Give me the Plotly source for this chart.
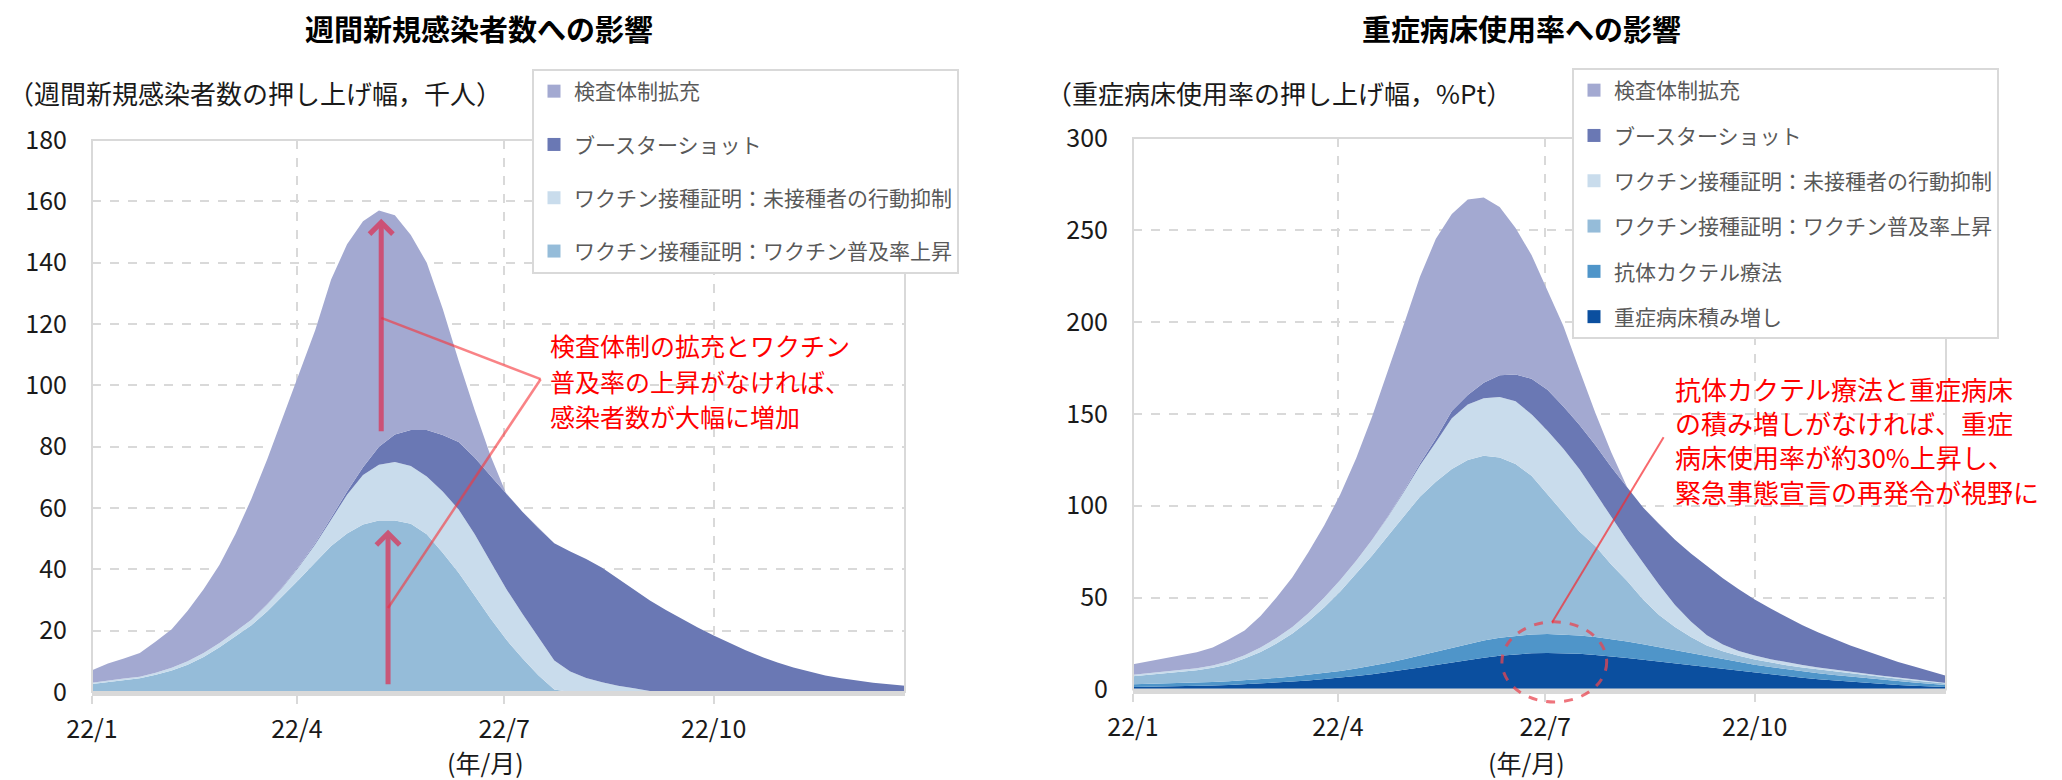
import plotly.graph_objects as go
import pandas as pd

W, H = 2062, 780
FONT = "Noto Sans CJK JP"

# Weekly observation dates (Sundays), 2022-01-02 .. 2022-12-25
weeks = pd.date_range("2022-01-02", periods=52, freq="7D").strftime("%Y-%m-%d").tolist()
x_start, x_end = "2022-01-02", "2022-12-25"
tick_dates = ["2022-01-02", "2022-04-02", "2022-07-02", "2022-10-02"]
tick_labels = ["22/1", "22/4", "22/7", "22/10"]

# ---- Left panel: weekly new cases, upward contribution (thousand people) ----
cases_vaccine_rate = [2.6, 3.3, 3.9, 4.5, 5.6, 7.0, 8.9, 11.4, 14.6, 18.2,
                      21.8, 26.3, 31.4, 36.8, 42.2, 47.6, 51.7, 54.6, 55.9, 55.9,
                      54.9, 51.4, 45.4, 38.9, 31.5, 24.0, 17.0, 11.0, 5.5, 0.8,
                      0, 0, 0, 0, 0, 0, 0, 0, 0, 0,
                      0, 0, 0, 0, 0, 0, 0, 0, 0, 0,
                      0, 0]
cases_unvax_restrict = [0.4, 0.5, 0.5, 0.5, 0.7, 0.9, 1.1, 1.3, 1.4, 1.5,
                        1.8, 2.3, 3.0, 4.1, 5.9, 8.6, 12.6, 16.2, 18.2, 19.1,
                        18.8, 18.9, 20.0, 20.6, 20.0, 18.5, 16.5, 14.5, 12.5, 9.5,
                        6.7, 4.6, 3.2, 2.0, 1.2, 0.3, 0, 0, 0, 0,
                        0, 0, 0, 0, 0, 0, 0, 0, 0, 0,
                        0, 0]
cases_booster = [0, 0, 0, 0, 0, 0, 0, 0, 0, 0,
                 0, 0.1, 0.2, 0.3, 0.4, 0.6, 1.1, 2.5, 5.9, 9.0,
                 11.7, 15.1, 18.4, 22.0, 25.0, 28.0, 31.0, 33.3, 35.5, 38.2,
                 39.1, 38.8, 37.3, 35.0, 32.1, 29.5, 26.7, 23.8, 21.0, 18.4,
                 15.9, 13.6, 11.5, 9.6, 8.0, 6.6, 5.4, 4.5, 3.7, 3.0,
                 2.5, 2.0]
cases_testing = [4.1, 5.5, 6.5, 7.7, 10.2, 12.6, 16.5, 20.8, 25.5, 31.8,
                 39.4, 47.3, 55.4, 62.8, 69.5, 77.7, 80.6, 80.2, 77.0, 71.5,
                 63.6, 54.6, 41.2, 26.5, 15.5, 6.5, 0, 0, 0, 0,
                 0, 0, 0, 0, 0, 0, 0, 0, 0, 0,
                 0, 0, 0, 0, 0, 0, 0, 0, 0, 0,
                 0, 0]

# ---- Right panel: severe-case bed usage, upward contribution (%Pt) ----
beds_bed_increase = [1.3, 1.4, 1.5, 1.7, 1.9, 2.2, 2.5, 2.9, 3.3, 3.8,
                     4.3, 4.9, 5.6, 6.4, 7.3, 8.3, 9.4, 10.6, 11.9, 13.3,
                     14.7, 16.1, 17.3, 18.4, 19.2, 19.7, 19.9, 19.8, 19.4, 18.8,
                     18.1, 17.2, 16.2, 15.2, 14.1, 13.0, 12.0, 11.0, 10.0, 9.0,
                     8.1, 7.2, 6.4, 5.6, 4.9, 4.2, 3.6, 3.0, 2.5, 2.0,
                     1.6, 1.3]
beds_antibody = [1.5, 1.6, 1.7, 1.8, 1.9, 1.9, 2.0, 2.1, 2.3, 2.5,
                 2.8, 3.1, 3.4, 3.7, 4.1, 4.6, 5.2, 5.8, 6.5, 7.2,
                 8.0, 8.7, 9.3, 9.7, 10.0, 10.2, 10.3, 10.2, 10.0, 9.7,
                 9.3, 8.9, 8.4, 7.8, 7.2, 6.6, 6.0, 5.4, 4.9, 4.5,
                 4.1, 3.8, 3.5, 3.3, 3.0, 2.8, 2.5, 2.3, 2.0, 1.8,
                 1.5, 1.2]
beds_vaccine_rate = [4.4, 5.0, 5.6, 6.1, 6.7, 7.7, 9.3, 11.8, 14.8, 18.7,
                     23.3, 29.1, 35.8, 43.2, 51.5, 60.0, 69.1, 78.2, 86.5, 92.5,
                     97.2, 100.0, 100.5, 98.1, 93.4, 86.4, 76.1, 66.0, 56.6, 49.5,
                     40.6, 32.9, 24.4, 17.5, 12.7, 8.9, 6.0, 4.4, 3.4, 2.8,
                     2.5, 2.2, 2.1, 2.0, 1.9, 1.8, 1.7, 1.5, 1.3, 1.1,
                     0.9, 0.7]
beds_unvax_restrict = [0.8, 0.8, 0.9, 1.0, 1.1, 1.2, 1.5, 1.8, 2.5, 3.0,
                       3.6, 4.4, 5.2, 6.2, 7.1, 8.6, 10.3, 13.0, 17.0, 21.5,
                       27.6, 30.2, 31.3, 32.9, 34.2, 33.4, 34.4, 35.0, 34.0, 29.0,
                       26.0, 22.0, 20.0, 16.5, 12.0, 8.5, 5.5, 3.7, 2.7, 2.2,
                       1.8, 1.6, 1.3, 1.1, 1.0, 0.9, 0.8, 0.7, 0.7, 0.6,
                       0.5, 0.4]
beds_booster = [0, 0, 0, 0, 0, 0, 0, 0, 0, 0,
                0, 0, 0, 0, 0, 0, 0.3, 0.5, 1.0, 2.0,
                4.0, 5.2, 8.5, 11.8, 14.6, 19.4, 22.3, 23.0, 24.0, 26.0,
                27.0, 29.0, 30.0, 33.0, 35.5, 37.0, 37.5, 36.0, 33.5, 30.5,
                27.5, 24.7, 21.7, 19.0, 16.7, 14.3, 12.4, 10.5, 8.5, 7.0,
                5.5, 3.9]
beds_testing = [5.8, 6.6, 7.3, 8.1, 8.7, 9.9, 11.9, 13.5, 17.1, 22.0,
                27.0, 33.1, 39.3, 46.6, 55.8, 67.0, 78.9, 90.7, 101.6, 108.7,
                107.1, 106.3, 100.8, 91.6, 79.7, 67.2, 54.0, 43.8, 30.0, 17.5,
                8.0, 0, 0, 0, 0, 0, 0, 0, 0, 0,
                0, 0, 0, 0, 0, 0, 0, 0, 0, 0,
                0, 0]

NAMES = {
    "testing": "検査体制拡充",
    "booster": "ブースターショット",
    "unvax": "ワクチン接種証明：未接種者の行動抑制",
    "rate": "ワクチン接種証明：ワクチン普及率上昇",
    "antibody": "抗体カクテル療法",
    "beds": "重症病床積み増し",
}
COLORS = {
    "testing": "#A3A9D1",
    "booster": "#6A78B4",
    "unvax": "#C9DCEC",
    "rate": "#95BCD9",
    "antibody": "#4F95C9",
    "beds": "#0B4F9F",
}

fig = go.Figure()


def add_stack(values, key, xa, ya, group):
    fig.add_trace(go.Scatter(
        x=weeks, y=values, mode="lines", stackgroup=group,
        line=dict(width=0, color=COLORS[key]), fillcolor=COLORS[key],
        xaxis=xa, yaxis=ya, showlegend=False, hoverinfo="skip",
    ))


# stacked areas, bottom layer first
add_stack(cases_vaccine_rate, "rate", "x", "y", "cases")
add_stack(cases_unvax_restrict, "unvax", "x", "y", "cases")
add_stack(cases_booster, "booster", "x", "y", "cases")
add_stack(cases_testing, "testing", "x", "y", "cases")

add_stack(beds_bed_increase, "beds", "x2", "y2", "beds")
add_stack(beds_antibody, "antibody", "x2", "y2", "beds")
add_stack(beds_vaccine_rate, "rate", "x2", "y2", "beds")
add_stack(beds_unvax_restrict, "unvax", "x2", "y2", "beds")
add_stack(beds_booster, "booster", "x2", "y2", "beds")
add_stack(beds_testing, "testing", "x2", "y2", "beds")


# legend swatches (square markers)
def add_key(key, legend, xa, ya):
    fig.add_trace(go.Scatter(
        x=[None], y=[None], mode="markers", name=NAMES[key],
        marker=dict(symbol="square", size=13, color=COLORS[key]),
        legend=legend, legendgroup=legend + key, showlegend=True,
        xaxis=xa, yaxis=ya, hoverinfo="skip",
    ))


for k in ["testing", "booster", "unvax", "rate"]:
    add_key(k, "legend", "x", "y")
for k in ["testing", "booster", "unvax", "rate", "antibody", "beds"]:
    add_key(k, "legend2", "x2", "y2")


def px(x):
    return x / W


def py(y):
    return 1 - y / H


GRID = "#D9D9D9"
TICKFONT = dict(family=FONT, size=25, color="#1A1A1A")

xaxis_common = dict(
    type="date", range=[x_start, x_end], tickmode="array",
    tickvals=tick_dates, ticktext=tick_labels, tickfont=TICKFONT,
    showgrid=True, gridcolor=GRID, gridwidth=2, griddash="dash",
    showline=True, linecolor=GRID, linewidth=4,
    ticks="outside", ticklen=8, tickwidth=2, tickcolor=GRID,
    ticklabelstandoff=4, zeroline=False, fixedrange=True, automargin=False,
)
yaxis_common = dict(
    tickfont=TICKFONT, showgrid=True, gridcolor=GRID, gridwidth=2,
    griddash="dash", zeroline=False, showline=False, ticks="",
    ticklabelstandoff=24, fixedrange=True, automargin=False,
)

fig.update_layout(
    width=W, height=H, margin=dict(l=0, r=0, t=0, b=0, autoexpand=False),
    paper_bgcolor="white", plot_bgcolor="white",
    font=dict(family=FONT),
    xaxis=dict(domain=[px(92), px(905)], anchor="y", **xaxis_common),
    yaxis=dict(domain=[py(692), py(140)], anchor="x", range=[0, 180], dtick=20, **yaxis_common),
    xaxis2=dict(domain=[px(1133), px(1946)], anchor="y2", **xaxis_common),
    yaxis2=dict(domain=[py(689.5), py(138)], anchor="x2", range=[0, 300], dtick=50, **yaxis_common),
    legend=dict(
        x=px(532), y=py(69), xanchor="left", yanchor="top",
        bgcolor="white", bordercolor=GRID, borderwidth=2,
        font=dict(family=FONT, size=21, color="#595959"),
        tracegroupgap=23, itemwidth=30,
    ),
    legend2=dict(
        x=px(1572), y=py(68), xanchor="left", yanchor="top",
        bgcolor="white", bordercolor=GRID, borderwidth=2,
        font=dict(family=FONT, size=21, color="#595959"),
        tracegroupgap=15, itemwidth=30,
    ),
    hovermode=False,
)

shapes = []
# plot-area frames
for xa, ya in [("x", "y"), ("x2", "y2")]:
    shapes.append(dict(type="rect", xref=xa + " domain", yref=ya + " domain",
                       x0=0, x1=1, y0=0, y1=1, line=dict(color=GRID, width=2),
                       layer="above"))

# left panel callout lines
CALLOUT = "rgba(245,55,60,0.62)"
shapes.append(dict(type="line", xref="x", yref="y", x0="2022-05-09", y0=122,
                   x1="2022-07-18", y1=102, line=dict(color=CALLOUT, width=2.5)))
shapes.append(dict(type="line", xref="x", yref="y", x0="2022-05-12", y0=27.4,
                   x1="2022-07-18", y1=102, line=dict(color=CALLOUT, width=2.5)))

# right panel: dashed ellipse around the antibody / bed layers and its callout
t0 = pd.Timestamp(x_start)
span = (pd.Timestamp(x_end) - t0).days


def xfrac(d):
    return (pd.Timestamp(d) - t0).days / span


shapes.append(dict(type="circle", xref="x2 domain", yref="y2 domain",
                   x0=xfrac("2022-06-13"), x1=xfrac("2022-07-29"),
                   y0=-6.8 / 300, y1=36.8 / 300,
                   line=dict(color="rgba(232,70,80,0.75)", width=3, dash="dash"),
                   layer="above"))
shapes.append(dict(type="line", xref="x2", yref="y2", x0="2022-07-05", y0=36.5,
                   x1="2022-08-23", y1=137.2,
                   line=dict(color="rgba(245,40,45,0.7)", width=2)))
fig.update_layout(shapes=shapes)

ARROW = "rgba(222,45,80,0.7)"


def label(x, y, text, size, color="#1A1A1A", xanchor="center", bold=False):
    return dict(x=px(x), y=py(y), xref="paper", yref="paper", showarrow=False,
                xanchor=xanchor, yanchor="middle",
                text=f"<b>{text}</b>" if bold else text,
                font=dict(family=FONT, size=size, color=color))


annotations = [
    # arrows in the left panel
    dict(x="2022-05-09", y=154.3, ax="2022-05-09", ay=84.5, xref="x", yref="y",
         axref="x", ayref="y", text="", showarrow=True, arrowhead=4,
         arrowsize=0.9, arrowwidth=5, arrowcolor=ARROW, standoff=0),
    dict(x="2022-05-12", y=52.9, ax="2022-05-12", ay=2.0, xref="x", yref="y",
         axref="x", ayref="y", text="", showarrow=True, arrowhead=4,
         arrowsize=0.9, arrowwidth=5, arrowcolor=ARROW, standoff=0),
    # panel titles
    label(479, 28, "週間新規感染者数への影響", 29, "#000000", bold=True),
    label(1521, 28, "重症病床使用率への影響", 29, "#000000", bold=True),
    # unit labels
    label(6, 92, "（週間新規感染者数の押し上げ幅，千人）", 26, xanchor="left"),
    label(1044, 92, "（重症病床使用率の押し上げ幅，%Pt）", 26, xanchor="left"),
    # x-axis unit
    label(485, 762, "(年/月)", 25),
    label(1526, 762, "(年/月)", 25),
]

left_note = ["検査体制の拡充とワクチン", "普及率の上昇がなければ、", "感染者数が大幅に増加"]
for line, yy in zip(left_note, [344.5, 380.5, 415.5]):
    annotations.append(label(548, yy, line, 25, "#FF0000", xanchor="left"))

right_note = ["抗体カクテル療法と重症病床", "の積み増しがなければ、重症",
              "病床使用率が約30%上昇し、", "緊急事態宣言の再発令が視野に"]
for line, yy in zip(right_note, [388, 422, 456.5, 491]):
    annotations.append(label(1673, yy, line, 26, "#FF0000", xanchor="left"))

fig.update_layout(annotations=annotations)

fig.write_html("out.html")
